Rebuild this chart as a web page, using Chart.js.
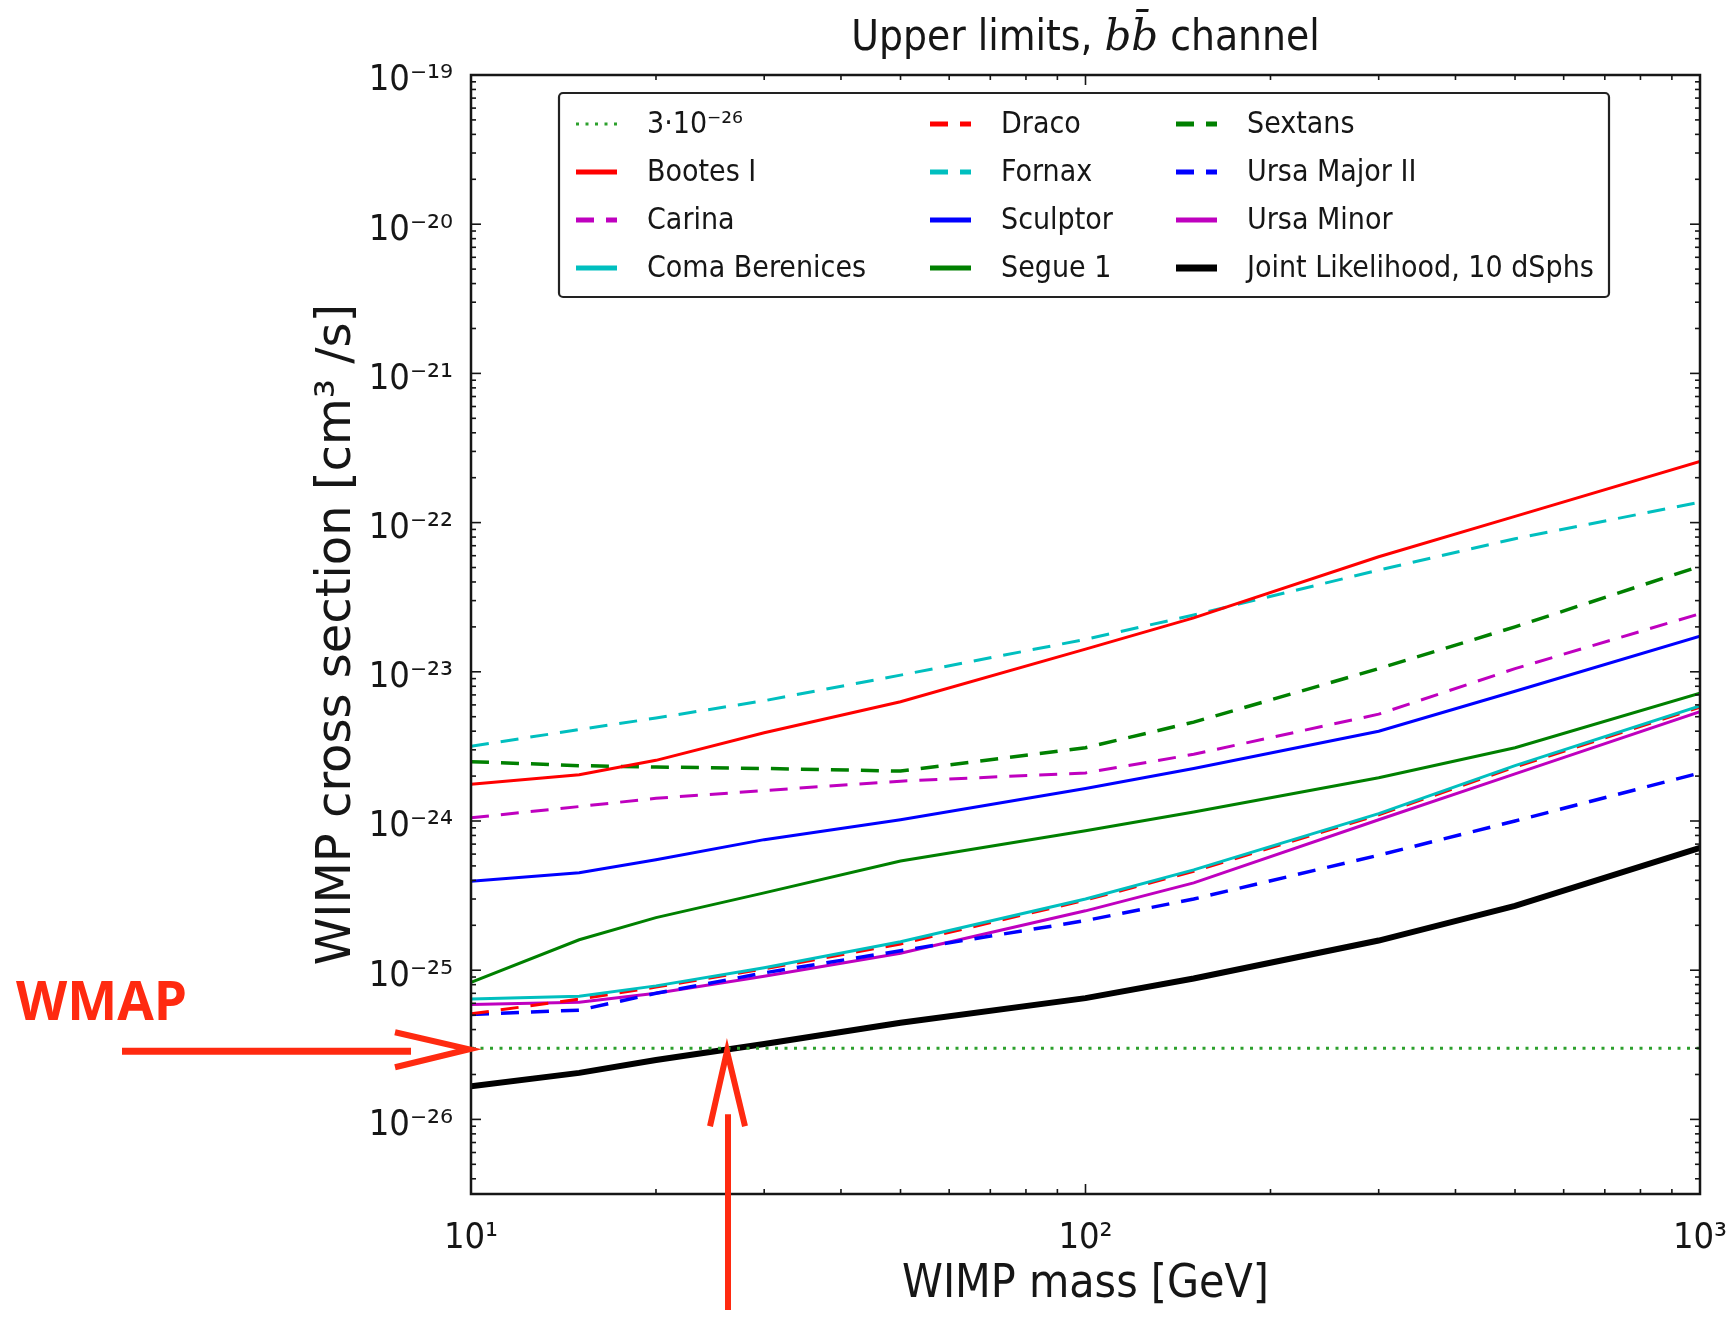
<!DOCTYPE html>
<html>
<head>
<meta charset="utf-8">
<title>Upper limits, bb channel</title>
<script src="https://cdn.jsdelivr.net/npm/chart.js@4.4.1/dist/chart.umd.min.js"></script>
<style>
  html, body { margin: 0; padding: 0; background: #fff; }
  #wrap { width: 1730px; height: 1318px; }
</style>
</head>
<body>
<div id="wrap"><canvas id="limits"></canvas></div>
<script>
// WIMP masses (GeV) where the limits are sampled
const masses = [10, 15, 20, 30, 50, 100, 150, 300, 500, 1000];

// 95% C.L. upper limits on <sigma v> in cm^3/s, b-bbar channel
const thermalRelic = [3e-26, 3e-26, 3e-26, 3e-26, 3e-26, 3e-26, 3e-26, 3e-26, 3e-26, 3e-26];
const bootes   = [1.76e-24, 2.04e-24, 2.55e-24, 3.9e-24, 6.3e-24, 1.42e-23, 2.3e-23, 5.9e-23, 1.1e-22, 2.57e-22];
const carina   = [1.05e-24, 1.25e-24, 1.42e-24, 1.6e-24, 1.85e-24, 2.1e-24, 2.8e-24, 5.2e-24, 1.05e-23, 2.45e-23];
const coma     = [6.4e-26, 6.7e-26, 7.85e-26, 1.04e-25, 1.55e-25, 3.0e-25, 4.7e-25, 1.12e-24, 2.35e-24, 5.9e-24];
const draco    = [5.1e-26, 6.4e-26, 7.7e-26, 1.02e-25, 1.5e-25, 2.95e-25, 4.6e-25, 1.1e-24, 2.3e-24, 5.8e-24];
const fornax   = [3.17e-24, 4.1e-24, 4.9e-24, 6.4e-24, 9.5e-24, 1.65e-23, 2.4e-23, 4.8e-23, 7.8e-23, 1.37e-22];
const sculptor = [3.95e-25, 4.5e-25, 5.5e-25, 7.5e-25, 1.02e-24, 1.65e-24, 2.25e-24, 4.0e-24, 7.4e-24, 1.73e-23];
const segue1   = [8.3e-26, 1.6e-25, 2.25e-25, 3.3e-25, 5.4e-25, 8.6e-25, 1.15e-24, 1.95e-24, 3.1e-24, 7.2e-24];
const sextans  = [2.5e-24, 2.35e-24, 2.3e-24, 2.25e-24, 2.16e-24, 3.1e-24, 4.6e-24, 1.05e-23, 2.0e-23, 5.1e-23];
const umaII    = [5.05e-26, 5.4e-26, 7.0e-26, 9.6e-26, 1.35e-25, 2.15e-25, 3.0e-25, 5.9e-25, 1.0e-24, 2.1e-24];
const umi      = [5.9e-26, 6.1e-26, 7.0e-26, 9.1e-26, 1.3e-25, 2.5e-25, 3.85e-25, 1.02e-24, 2.07e-24, 5.4e-24];
const joint    = [1.67e-26, 2.05e-26, 2.5e-26, 3.2e-26, 4.45e-26, 6.5e-26, 8.8e-26, 1.58e-25, 2.7e-25, 6.6e-25];

// axis ranges
const xRange = [10, 1000];
const yRange = [Math.pow(10, -26.5), 1e-19];

// thermal relic level and the mass where the joint limit reaches it
const wmapLevel = 3e-26;
const wmapCrossing = 26;

const FONT_C = "'DejaVu Sans Condensed', 'DejaVu Sans', sans-serif";
const FONT = "'DejaVu Sans', sans-serif";
const INK = '#161616';

const series = [
  { label: '3\u00b710\u207b\u00b2\u2076', values: thermalRelic, color: '#2ca02c', dash: [3, 6.5], width: 3 },
  { label: 'Bootes I',        values: bootes,   color: '#ff0000', dash: [],       width: 3 },
  { label: 'Carina',          values: carina,   color: '#bf00bf', dash: [18, 12], width: 3 },
  { label: 'Coma Berenices',  values: coma,     color: '#00bfbf', dash: [],       width: 3 },
  { label: 'Draco',           values: draco,    color: '#ff0000', dash: [18, 12], width: 3 },
  { label: 'Fornax',          values: fornax,   color: '#00bfbf', dash: [18, 12], width: 3 },
  { label: 'Sculptor',        values: sculptor, color: '#0000ff', dash: [],       width: 3 },
  { label: 'Segue 1',         values: segue1,   color: '#008000', dash: [],       width: 3 },
  { label: 'Sextans',         values: sextans,  color: '#008000', dash: [18, 12], width: 3.5 },
  { label: 'Ursa Major II',   values: umaII,    color: '#0000ff', dash: [18, 12], width: 3.5 },
  { label: 'Ursa Minor',      values: umi,      color: '#bf00bf', dash: [],       width: 3 },
  { label: 'Joint Likelihood, 10 dSphs', values: joint, color: '#000000', dash: [], width: 6 }
];

const datasets = series.map(s => ({
  label: s.label,
  data: masses.map((m, i) => ({ x: m, y: s.values[i] })),
  borderColor: s.color,
  borderWidth: s.width,
  borderDash: s.dash,
  fill: false,
  pointRadius: 0,
  tension: 0
}));

const SUP = { '-': '\u207b', '0': '\u2070', '1': '\u00b9', '2': '\u00b2', '3': '\u00b3',
  '4': '\u2074', '5': '\u2075', '6': '\u2076', '7': '\u2077', '8': '\u2078', '9': '\u2079' };
const sup = n => String(n).split('').map(c => SUP[c]).join('');

// decade ticks plus 2..9 minor ticks, like a matplotlib log axis
function logTicks(min, max) {
  const ticks = [];
  for (let e = Math.floor(Math.log10(min)); e <= Math.ceil(Math.log10(max)); e++) {
    for (let k = 1; k <= 9; k++) {
      const v = k * Math.pow(10, e);
      if (v >= min * 0.999999 && v <= max * 1.000001) ticks.push({ value: v, major: k === 1 });
    }
  }
  return ticks;
}

function decadeLabel(value, index, ticks) {
  if (!ticks[index].major) return '';
  return '10' + sup(Math.round(Math.log10(value)));
}

function seg(ctx, x1, y1, x2, y2) {
  ctx.beginPath();
  ctx.moveTo(x1, y1);
  ctx.lineTo(x2, y2);
  ctx.stroke();
}

// box around the axes with inward ticks on all four sides
const frameTicks = {
  id: 'frameTicks',
  afterDatasetsDraw(chart) {
    const { ctx, chartArea: a, scales: { x, y } } = chart;
    ctx.save();
    ctx.strokeStyle = INK;
    ctx.lineWidth = 1.6;
    x.ticks.forEach(t => {
      const px = x.getPixelForValue(t.value);
      const len = t.major ? 10 : 5;
      seg(ctx, px, a.bottom, px, a.bottom - len);
      seg(ctx, px, a.top, px, a.top + len);
    });
    y.ticks.forEach(t => {
      const py = y.getPixelForValue(t.value);
      const len = t.major ? 10 : 5;
      seg(ctx, a.left, py, a.left + len, py);
      seg(ctx, a.right, py, a.right - len, py);
    });
    ctx.lineWidth = 2.5;
    ctx.strokeRect(a.left, a.top, a.right - a.left, a.bottom - a.top);
    ctx.restore();
  }
};

// three-column legend inside the axes, filled column by column
const legendCols = [17, 371, 617];
const legendBox = {
  id: 'legendBox',
  afterDatasetsDraw(chart) {
    const { ctx, chartArea: a } = chart;
    const left = a.left + 88, top = a.top + 18, w = 1050, h = 204;
    ctx.save();
    ctx.fillStyle = '#fff';
    ctx.strokeStyle = '#222';
    ctx.lineWidth = 2.2;
    ctx.beginPath();
    ctx.roundRect(left, top, w, h, 4);
    ctx.fill();
    ctx.stroke();
    ctx.font = `30px ${FONT_C}`;
    ctx.textBaseline = 'middle';
    chart.data.datasets.forEach((ds, i) => {
      const col = Math.floor(i / 4), row = i % 4;
      const lx = left + legendCols[col];
      const ly = top + 31 + row * 48;
      ctx.strokeStyle = ds.borderColor;
      ctx.lineWidth = ds.borderWidth > 4 ? 7 : 5;
      ctx.setLineDash(ds.borderDash.length ? [18, 12] : []);
      if (i === 0) ctx.setLineDash([3, 6.5]), ctx.lineWidth = 3;
      seg(ctx, lx, ly, lx + 41, ly);
      ctx.setLineDash([]);
      ctx.fillStyle = INK;
      ctx.fillText(ds.label, lx + 71, ly + 1);
    });
    ctx.restore();
  }
};

// heading with the italic b-bbar
const heading = {
  id: 'heading',
  afterDraw(chart) {
    const { ctx, chartArea: a } = chart;
    const parts = [
      { text: 'Upper limits, ', font: `42px ${FONT_C}` },
      { text: 'b', font: `italic 42px 'DejaVu Serif', serif` },
      { text: 'b\u0304', font: `italic 42px 'DejaVu Serif', serif` },
      { text: ' channel', font: `42px ${FONT_C}` }
    ];
    ctx.save();
    ctx.fillStyle = INK;
    ctx.textBaseline = 'alphabetic';
    let total = 0;
    parts.forEach(p => { ctx.font = p.font; p.w = ctx.measureText(p.text).width; total += p.w; });
    let cx = (a.left + a.right) / 2 - total / 2;
    parts.forEach(p => { ctx.font = p.font; ctx.fillText(p.text, cx, 50); cx += p.w; });
    ctx.restore();
  }
};

// red WMAP callout: horizontal arrow at the relic level, vertical arrow at the crossing
const wmapArrows = {
  id: 'wmapArrows',
  afterDraw(chart) {
    const { ctx, scales: { x, y } } = chart;
    const ty = y.getPixelForValue(wmapLevel);
    const tx = x.getPixelForValue(xRange[0]);
    const cx = x.getPixelForValue(wmapCrossing);
    ctx.save();
    ctx.strokeStyle = '#ff2a10';
    ctx.fillStyle = '#ff2a10';
    ctx.lineCap = 'butt';
    ctx.lineWidth = 7;
    seg(ctx, 122, ty + 3, tx - 60, ty + 3);
    ctx.lineWidth = 6;
    ctx.beginPath();
    ctx.moveTo(tx - 76, ty - 16);
    ctx.lineTo(tx - 2, ty + 1);
    ctx.lineTo(tx - 76, ty + 19);
    ctx.stroke();
    seg(ctx, cx + 2, chart.height - 8, cx + 2, ty + 66);
    ctx.beginPath();
    ctx.moveTo(cx - 16, ty + 78);
    ctx.lineTo(cx + 1, ty + 3);
    ctx.lineTo(cx + 19, ty + 78);
    ctx.stroke();
    ctx.font = "bold 53px 'Open Sans', sans-serif";
    ctx.textBaseline = 'alphabetic';
    ctx.fillText('WMAP', 16, 1020);
    ctx.restore();
  }
};

new Chart(document.getElementById('limits'), {
  type: 'line',
  data: { datasets },
  options: {
    responsive: true,
    maintainAspectRatio: false,
    animation: false,
    layout: { padding: { top: 75, right: 30, left: 0, bottom: 0 } },
    plugins: {
      legend: { display: false },
      tooltip: { enabled: false },
      title: { display: false }
    },
    scales: {
      x: {
        type: 'logarithmic',
        min: xRange[0],
        max: xRange[1],
        grid: { display: false, drawTicks: false },
        border: { display: false },
        afterBuildTicks: s => { s.ticks = logTicks(s.min, s.max); },
        afterFit: s => { s.height = 124; s.paddingLeft = 0; s.paddingRight = 0; },
        ticks: {
          autoSkip: false,
          maxRotation: 0,
          padding: 23,
          color: INK,
          font: { family: FONT_C, size: 36 },
          callback: decadeLabel
        },
        title: {
          display: true,
          text: 'WIMP mass [GeV]',
          color: INK,
          font: { family: FONT_C, size: 46 },
          padding: { top: 0, bottom: 5 }
        }
      },
      y: {
        type: 'logarithmic',
        min: yRange[0],
        max: yRange[1],
        grid: { display: false, drawTicks: false },
        border: { display: false },
        afterBuildTicks: s => { s.ticks = logTicks(s.min, s.max); },
        afterFit: s => { s.width = 471; s.paddingTop = 0; s.paddingBottom = 0; },
        ticks: {
          autoSkip: false,
          padding: 18,
          labelOffset: 6,
          color: INK,
          font: { family: FONT_C, size: 36 },
          callback: decadeLabel
        },
        title: {
          display: true,
          text: 'WIMP cross section [cm\u00b3 /s]',
          color: INK,
          font: { family: FONT, size: 48 },
          padding: { top: 309, bottom: 0 }
        }
      }
    }
  },
  plugins: [frameTicks, legendBox, heading, wmapArrows]
});
</script>
</body>
</html>
